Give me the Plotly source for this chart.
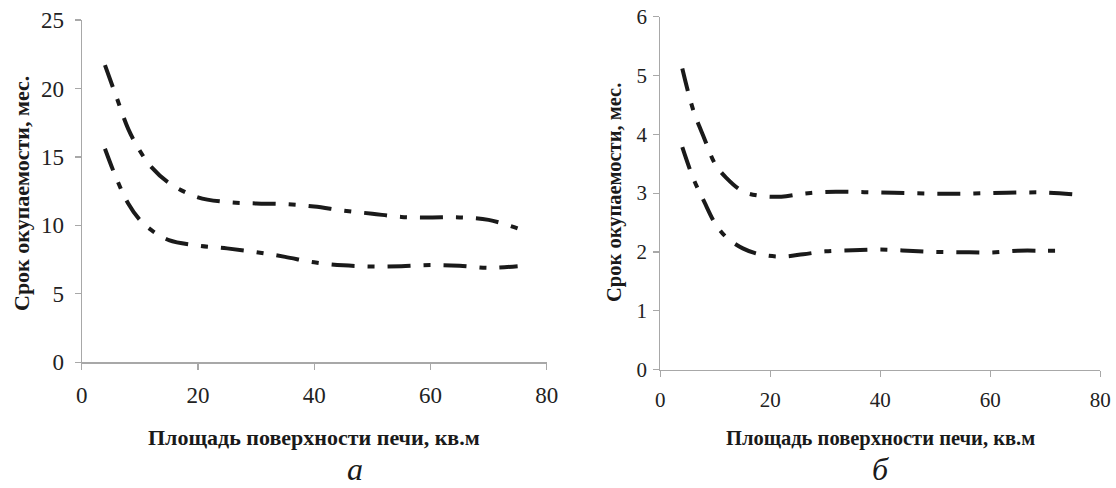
import plotly.graph_objects as go

# ---- data: panel "а" ----
x_a = [4, 6, 8, 10, 12, 15, 20, 25, 30, 35, 40, 45, 50, 55, 60, 65, 70, 75]
upper_a = [21.7, 19.35, 17.05, 15.45, 14.25, 13.1, 12.05, 11.7, 11.6, 11.55, 11.38, 11.08, 10.85, 10.62, 10.58, 10.58, 10.4, 9.78]
lower_a = [15.6, 13.4, 11.6, 10.4, 9.65, 8.93, 8.53, 8.32, 8.05, 7.7, 7.3, 7.08, 7.0, 7.02, 7.1, 7.05, 6.9, 7.02]

# ---- data: panel "б" ----
x_b_up = [4, 6, 8, 10, 12, 15, 18, 22, 26, 30, 35, 40, 45, 50, 55, 60, 65, 70, 75]
upper_b = [5.12, 4.41, 3.93, 3.49, 3.26, 3.03, 2.955, 2.94, 2.99, 3.02, 3.02, 3.01, 3.0, 2.99, 2.99, 3.0, 3.01, 3.01, 2.98]
x_b_lo = [4, 6, 8, 10, 12, 15, 18, 22, 26, 30, 35, 40, 45, 50, 55, 60, 65, 70, 73]
lower_b = [3.78, 3.25, 2.85, 2.48, 2.25, 2.06, 1.96, 1.92, 1.96, 2.01, 2.03, 2.04, 2.02, 2.0, 1.995, 1.99, 2.02, 2.02, 2.02]

x_ticks = [0, 20, 40, 60, 80]
y_ticks_a = [0, 5, 10, 15, 20, 25]
y_ticks_b = [0, 1, 2, 3, 4, 5, 6]

x_title = "Площадь поверхности печи, кв.м"
y_title = "Срок окупаемости, мес."
panel_labels = ["а", "б"]

W, H = 1116, 488
def px(x):
    return x / W
def py(y):
    return 1 - y / H

FONT = "Liberation Serif"
LINE_COLOR = "#1a1a1a"
DASH = "23px,13px,7px,13px"
AX_COLOR = "#a8a8a8"

fig = go.Figure()
for xs, ys in [(x_a, upper_a), (x_a, lower_a)]:
    fig.add_trace(go.Scatter(x=xs, y=ys, mode="lines", xaxis="x", yaxis="y",
                             line=dict(color=LINE_COLOR, width=4, dash=DASH, shape="spline"),
                             showlegend=False))
for xs, ys in [(x_b_up, upper_b), (x_b_lo, lower_b)]:
    fig.add_trace(go.Scatter(x=xs, y=ys, mode="lines", xaxis="x2", yaxis="y2",
                             line=dict(color=LINE_COLOR, width=4, dash=DASH, shape="spline"),
                             showlegend=False))

def xaxis(domain, anchor, size, standoff):
    return dict(domain=domain, anchor=anchor, range=[0, 80], tickvals=x_ticks,
                showgrid=False, zeroline=False, showline=True, linecolor=AX_COLOR, linewidth=1.2,
                ticks="outside", ticklen=6, tickcolor=AX_COLOR, tickwidth=1.2,
                tickfont=dict(family=FONT, size=size, color="#222"),
                ticklabelstandoff=standoff, ticklabeloverflow="allow",
                automargin=False, fixedrange=True)

def yaxis(domain, anchor, rng, ticks, size, standoff):
    return dict(domain=domain, anchor=anchor, range=rng, tickvals=ticks,
                showgrid=False, zeroline=False, showline=True, linecolor=AX_COLOR, linewidth=1.2,
                ticks="outside", ticklen=6, tickcolor=AX_COLOR, tickwidth=1.2,
                tickfont=dict(family=FONT, size=size, color="#222"),
                ticklabelstandoff=standoff, ticklabeloverflow="allow",
                automargin=False, fixedrange=True)

fig.update_layout(
    width=W, height=H,
    margin=dict(l=0, r=0, t=0, b=0, autoexpand=False),
    paper_bgcolor="white", plot_bgcolor="white",
    font=dict(family=FONT),
    xaxis=xaxis([px(81.7), px(546.7)], "y", 23, 6),
    yaxis=yaxis([py(362.3), py(20)], "x", [0, 25], y_ticks_a, 23, 6),
    xaxis2=xaxis([px(660.3), px(1100.3)], "y2", 21, 5),
    yaxis2=yaxis([py(369.5), py(16.7)], "x2", [0, 6], y_ticks_b, 21, 2),
)

ann = []
# x titles
ann.append(dict(text="<b>" + x_title + "</b>", x=px(314), y=py(437), xref="paper", yref="paper",
                showarrow=False, xanchor="center", yanchor="middle",
                font=dict(family=FONT, size=22, color="#1a1a1a")))
ann.append(dict(text="<b>" + x_title + "</b>", x=px(880), y=py(438), xref="paper", yref="paper",
                showarrow=False, xanchor="center", yanchor="middle",
                font=dict(family=FONT, size=20.5, color="#1a1a1a")))
# y titles
ann.append(dict(text="<b>" + y_title + "</b>", x=px(21.5), y=py(193.5), xref="paper", yref="paper",
                showarrow=False, xanchor="center", yanchor="middle", textangle=-90,
                font=dict(family=FONT, size=22, color="#1a1a1a")))
ann.append(dict(text="<b>" + y_title + "</b>", x=px(615), y=py(193), xref="paper", yref="paper",
                showarrow=False, xanchor="center", yanchor="middle", textangle=-90,
                font=dict(family=FONT, size=20.5, color="#1a1a1a")))
# panel labels (kept just inside the bottom edge of the window)
ann.append(dict(text="<i>" + panel_labels[0] + "</i>", x=px(355), y=py(489), xref="paper", yref="paper",
                showarrow=False, xanchor="center", yanchor="bottom",
                font=dict(family=FONT, size=32, color="#1a1a1a")))
ann.append(dict(text="<i>" + panel_labels[1] + "</i>", x=px(880), y=py(489), xref="paper", yref="paper",
                showarrow=False, xanchor="center", yanchor="bottom",
                font=dict(family=FONT, size=32, color="#1a1a1a")))
fig.update_layout(annotations=ann)

# remove the default page margin so the figure fills the 1116x488 window exactly
fig.write_html("out.html",
               config={"displayModeBar": False, "staticPlot": True},
               post_script="document.body.style.margin='0';document.body.style.overflow='hidden';")
